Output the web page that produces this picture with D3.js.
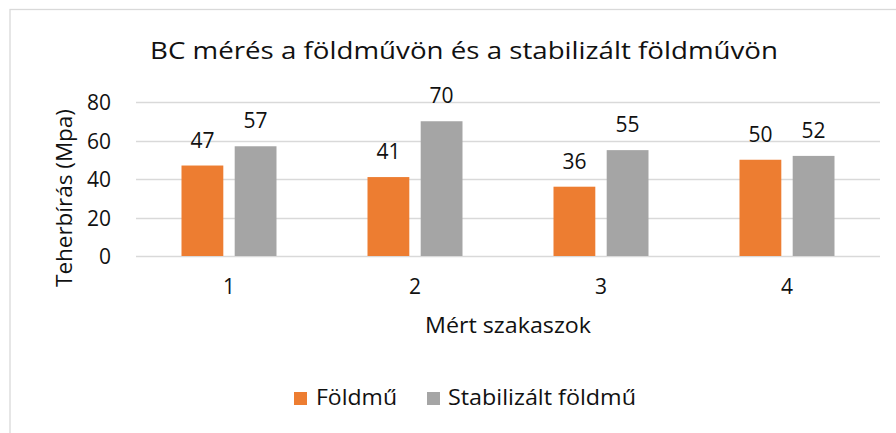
<!DOCTYPE html>
<html>
<head>
<meta charset="utf-8">
<script src="https://cdn.jsdelivr.net/npm/d3@7"></script>
<style>
  html, body { margin: 0; padding: 0; background: #fff; }
  svg { display: block; }
  text { font-family: "Open Sans", "Noto Sans", sans-serif; fill: #111; }
</style>
</head>
<body>
<svg id="chart" width="896" height="433"></svg>
<script>
// ---- data ----
const categories = ["1", "2", "3", "4"];
const seriesNames = ["Földmű", "Stabilizált földmű"];
const foldmu = [47, 41, 36, 50];
const stabilizalt = [57, 70, 55, 52];
const yTicks = [0, 20, 40, 60, 80];
const titleText = "BC mérés a földművön és a stabilizált földművön";
const yTitle = "Teherbírás (Mpa)";
const xTitle = "Mért szakaszok";

const colors = ["#ED7D31", "#A5A5A5"];
const seriesValues = [foldmu, stabilizalt];

const svg = d3.select("#chart");

// chart border
svg.append("rect")
  .attr("x", 10).attr("y", 9.5)
  .attr("width", 1000).attr("height", 1000)
  .attr("fill", "#fff")
  .attr("stroke", "#d9d9d9").attr("stroke-width", 1.3);

const plot = { left: 136, right: 880, top: 102, bottom: 256 };

const x0 = d3.scaleBand().domain(categories).range([plot.left, plot.right]).padding(0);
const groupWidth = 95;
const x1 = d3.scaleBand().domain(seriesNames).range([0, groupWidth]).paddingInner(0.214).paddingOuter(0);
const y = d3.scaleLinear().domain([0, 80]).range([plot.bottom, plot.top]);

// gridlines
svg.append("g").selectAll("line").data(yTicks).join("line")
  .attr("x1", plot.left).attr("x2", plot.right)
  .attr("y1", d => Math.round(y(d)) + 0.5).attr("y2", d => Math.round(y(d)) + 0.5)
  .attr("stroke", "#d9d9d9").attr("stroke-width", 1.3);

const labelFont = "21px";

// y axis labels
const yAxis = d3.axisLeft(y).tickValues(yTicks).tickSize(0).tickPadding(0);
const gy = svg.append("g").attr("transform", `translate(111,0)`).call(yAxis);
gy.select(".domain").remove();
gy.selectAll("text")
  .style("font-family", '"Open Sans", sans-serif')
  .style("font-size", labelFont).attr("fill", "#111")
  .attr("dy", "0.36em");

// x axis labels
const xAxis = d3.axisBottom(x0).tickSize(0).tickPadding(0);
const gx = svg.append("g").attr("transform", `translate(0,${plot.bottom})`).call(xAxis);
gx.select(".domain").remove();
gx.selectAll("text")
  .style("font-family", '"Open Sans", sans-serif')
  .style("font-size", labelFont).attr("fill", "#111")
  .attr("dy", 0).attr("y", 38);

// bars
const groups = svg.append("g").selectAll("g").data(categories).join("g")
  .attr("transform", d => `translate(${x0(d) + (x0.bandwidth() - groupWidth) / 2},0)`);

groups.selectAll("rect")
  .data((c, i) => seriesNames.map((s, j) => ({ s, j, v: seriesValues[j][i] })))
  .join("rect")
  .attr("x", d => x1(d.s))
  .attr("width", x1.bandwidth())
  .attr("y", d => y(d.v))
  .attr("height", d => y(0) - y(d.v))
  .attr("fill", d => colors[d.j]);

// data labels
groups.selectAll("text.lbl")
  .data((c, i) => seriesNames.map((s, j) => ({ s, j, v: seriesValues[j][i] })))
  .join("text").attr("class", "lbl")
  .attr("x", d => x1(d.s) + x1.bandwidth() / 2)
  .attr("y", d => y(d.v) - 18)
  .attr("text-anchor", "middle")
  .style("font-size", labelFont)
  .text(d => d.v);

// title
svg.append("text")
  .attr("x", 150).attr("y", 59)
  .attr("textLength", 628).attr("lengthAdjust", "spacingAndGlyphs")
  .style("font-size", "24px")
  .text(titleText);

// y title
svg.append("text")
  .attr("transform", "translate(72,198) rotate(-90)")
  .attr("text-anchor", "middle")
  .attr("textLength", 178).attr("lengthAdjust", "spacingAndGlyphs")
  .style("font-size", "22.5px")
  .text(yTitle);

// x title
svg.append("text")
  .attr("x", (plot.left + plot.right) / 2).attr("y", 333)
  .attr("text-anchor", "middle")
  .attr("textLength", 166).attr("lengthAdjust", "spacingAndGlyphs")
  .style("font-size", "22px")
  .text(xTitle);

// legend
const legendItems = [
  { name: seriesNames[0], color: colors[0], sx: 294, tx: 316, w: 81 },
  { name: seriesNames[1], color: colors[1], sx: 427, tx: 448, w: 188 }
];
const lg = svg.append("g");
lg.selectAll("rect").data(legendItems).join("rect")
  .attr("x", d => d.sx).attr("y", 392).attr("width", 13).attr("height", 13)
  .attr("fill", d => d.color);
lg.selectAll("text").data(legendItems).join("text")
  .attr("x", d => d.tx).attr("y", 405)
  .attr("textLength", d => d.w).attr("lengthAdjust", "spacingAndGlyphs")
  .style("font-size", "22px")
  .text(d => d.name);
</script>
</body>
</html>
